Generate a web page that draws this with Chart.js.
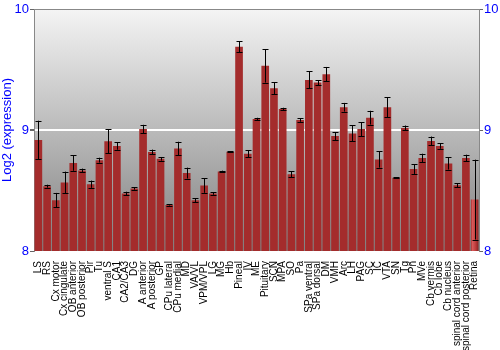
<!DOCTYPE html>
<html><head><meta charset="utf-8">
<script src="https://cdn.jsdelivr.net/npm/chart.js@4/dist/chart.umd.min.js"></script>
<style>html,body{margin:0;padding:0;background:#fff}#wrap{width:500px;height:350px}</style>
</head><body><div id="wrap"><canvas id="c" width="500" height="350"></canvas></div>
<script>
const categories = ["LS","RS","Cx motor","Cx cingulate","OB anterior","OB posterior","Pir","Tu","ventral S","CA1","CA2/CA3","DG","A anterior","A posterior","GP","CPu lateral","CPu medial","MD","VA/VL","VPM/VPL","LG","MG","Hb","Pineal","IV","ME","Pituitary","SCN","MPA","SO","Pa","SPa ventral","SPa dorsal","DM","VMH","Arc","LH","PAG","SC","IC","VTA","SN","Tg","Pn","MVe","Cb vermis","Cb lobe","Cb nucleus","spinal cord anterior","spinal cord posterior","Retina"];
const values = [8.917,8.536,8.42,8.566,8.727,8.666,8.552,8.751,8.906,8.867,8.475,8.517,9.008,8.818,8.762,8.381,8.848,8.644,8.42,8.541,8.475,8.657,8.82,9.688,8.804,9.091,9.53,9.345,9.174,8.635,9.083,9.414,9.392,9.461,8.95,9.188,8.972,9.008,9.102,8.757,9.188,8.605,9.017,8.677,8.768,8.909,8.867,8.724,8.544,8.768,8.425];
const errors = [0.16,0.012,0.06,0.09,0.064,0.015,0.03,0.02,0.10,0.03,0.015,0.01,0.035,0.02,0.015,0.005,0.055,0.045,0.015,0.06,0.01,0.007,0.003,0.047,0.03,0.01,0.138,0.05,0.01,0.025,0.015,0.07,0.02,0.06,0.033,0.036,0.066,0.058,0.057,0.068,0.083,0.005,0.02,0.04,0.036,0.037,0.022,0.051,0.017,0.028,0.33];
const yTicks = [8,9,10];

const bgPlugin = {
  id:'bg',
  beforeDraw(chart){
    const {ctx, chartArea:a} = chart;
    const g = ctx.createLinearGradient(0,a.top,0,a.bottom);
    g.addColorStop(0,'#f4f4f4');
    g.addColorStop(1,'#808080');
    ctx.save(); ctx.fillStyle=g; ctx.fillRect(a.left,a.top,a.right-a.left,a.bottom-a.top); ctx.restore();
  },
  beforeDatasetsDraw(chart){
    const ctx = chart.ctx;
    chart.getDatasetMeta(0).data.forEach(el=>{
      const w = el.width, x0 = el.x - w/2;
      const g = ctx.createLinearGradient(x0,0,x0+w,0);
      g.addColorStop(0,'#a42c2c');
      g.addColorStop(0.22,'#d65a5a');
      g.addColorStop(0.55,'#c44242');
      g.addColorStop(1,'#8c2020');
      el.options.backgroundColor = g;
    });
  },
  afterDatasetsDraw(chart){
    const ctx = chart.ctx, ys = chart.scales.y;
    ctx.save(); ctx.strokeStyle='#000'; ctx.lineWidth=1;
    chart.getDatasetMeta(0).data.forEach((el,i)=>{
      const x = Math.round(el.x)+0.5;
      const t = ys.getPixelForValue(values[i]+errors[i]);
      const b = ys.getPixelForValue(values[i]-errors[i]);
      ctx.beginPath();
      ctx.moveTo(x,t); ctx.lineTo(x,b);
      ctx.moveTo(x-3,Math.round(t)+0.5); ctx.lineTo(x+3,Math.round(t)+0.5);
      ctx.moveTo(x-3,Math.round(b)+0.5); ctx.lineTo(x+3,Math.round(b)+0.5);
      ctx.stroke();
    });
    ctx.restore();
  }
};

new Chart(document.getElementById('c'),{
  type:'bar',
  data:{labels:categories,datasets:[{data:values,backgroundColor:'#c04040',barPercentage:0.88,categoryPercentage:1.0}]},
  options:{
    responsive:false,animation:false,
    layout:{padding:{top:9,left:0,right:0,bottom:0}},
    plugins:{legend:{display:false},tooltip:{enabled:false}},
    scales:{
      x:{
        grid:{display:false},border:{display:false},
        ticks:{autoSkip:false,maxRotation:90,minRotation:90,color:'#000',padding:2,font:{family:'Liberation Sans, Arial',size:10}},
        afterFit(s){s.height=99;}
      },
      y:{
        position:'left',min:8,max:10,
        afterBuildTicks(s){s.ticks=yTicks.map(v=>({value:v}));},
        grid:{color:c=>c.tick&&c.tick.value===9?'#ffffff':(c.tick&&c.tick.value===10?'#888':'rgba(0,0,0,0)'),lineWidth:c=>c.tick&&c.tick.value===9?2:1,tickLength:4,tickColor:'#666'},
        border:{display:true,color:'#888'},
        ticks:{color:'#0000ff',padding:1,font:{family:'Liberation Sans, Arial',size:13}},
        title:{display:true,text:'Log2 (expression)',color:'#0000ff',padding:{top:0,bottom:2},font:{family:'Liberation Sans, Arial',size:13}},
        afterFit(s){s.width=34;}
      },
      y2:{
        position:'right',min:8,max:10,
        afterBuildTicks(s){s.ticks=yTicks.map(v=>({value:v}));},
        grid:{drawOnChartArea:false,tickLength:4,tickColor:'#666'},
        border:{display:true,color:'#888'},
        ticks:{color:'#0000ff',padding:1,font:{family:'Liberation Sans, Arial',size:13}},
        afterFit(s){s.width=21;}
      }
    }
  },
  plugins:[bgPlugin]
});
</script></body></html>
